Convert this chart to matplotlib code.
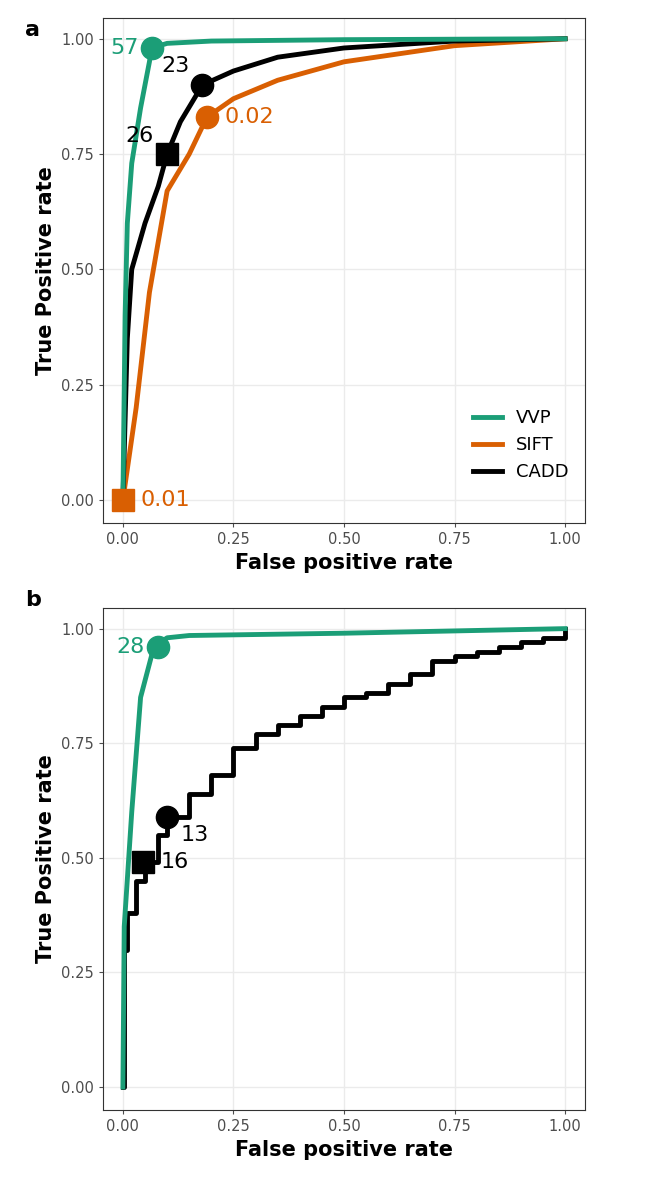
import matplotlib.pyplot as plt

GREEN = "#1b9e77"
ORANGE = "#d95f02"

# panel a
vvp_a_x = [0, 0.005, 0.01, 0.02, 0.04, 0.06, 0.065, 0.1, 0.2, 0.5, 1.0]
vvp_a_y = [0, 0.40, 0.60, 0.73, 0.85, 0.95, 0.98, 0.99, 0.995, 0.998, 1.0]
cadd_a_x = [0, 0.01, 0.02, 0.05, 0.08, 0.1, 0.13, 0.18, 0.25, 0.35, 0.5, 0.75, 1.0]
cadd_a_y = [0, 0.35, 0.50, 0.60, 0.68, 0.75, 0.82, 0.90, 0.93, 0.96, 0.98, 0.995, 1.0]
sift_a_x = [0, 0.03, 0.06, 0.1, 0.15, 0.19, 0.25, 0.35, 0.5, 0.75, 1.0]
sift_a_y = [0, 0.20, 0.45, 0.67, 0.75, 0.83, 0.87, 0.91, 0.95, 0.985, 1.0]

# panel b
vvp_b_x = [0, 0.003, 0.02, 0.04, 0.07, 0.1, 0.15, 0.5, 1.0]
vvp_b_y = [0, 0.35, 0.60, 0.85, 0.96, 0.98, 0.985, 0.99, 1.0]
cadd_b_x = [0, 0.003, 0.01, 0.03, 0.05, 0.08, 0.1, 0.15, 0.2, 0.25, 0.3, 0.35, 0.4,
            0.45, 0.5, 0.55, 0.6, 0.65, 0.7, 0.75, 0.8, 0.85, 0.9, 0.95, 1.0]
cadd_b_y = [0, 0.30, 0.38, 0.45, 0.49, 0.55, 0.59, 0.64, 0.68, 0.74, 0.77, 0.79, 0.81,
            0.83, 0.85, 0.86, 0.88, 0.90, 0.93, 0.94, 0.95, 0.96, 0.97, 0.98, 1.0]

# markers: (x, y, marker, colour, label, dx, dy, ha)
marks_a = [
    (0.065, 0.98, "o", GREEN, "57", -0.03, 0, "right"),
    (0.18, 0.90, "o", "black", "23", -0.03, 0.04, "right"),
    (0.10, 0.75, "s", "black", "26", -0.03, 0.04, "right"),
    (0.19, 0.83, "o", ORANGE, "0.02", 0.04, 0, "left"),
    (0.0, 0.0, "s", ORANGE, "0.01", 0.04, 0, "left"),
]
marks_b = [
    (0.08, 0.96, "o", GREEN, "28", -0.03, 0, "right"),
    (0.10, 0.59, "o", "black", "13", 0.03, -0.04, "left"),
    (0.045, 0.49, "s", "black", "16", 0.04, 0, "left"),
]

fig = plt.figure(figsize=(6.7, 12), dpi=100)
ax_a = fig.add_axes([103/670, 1-523/1200, 482/670, 505/1200])
ax_b = fig.add_axes([103/670, 1-1110/1200, 482/670, 502/1200])

ticks = [0, 0.25, 0.5, 0.75, 1.0]
labels = ["0.00", "0.25", "0.50", "0.75", "1.00"]

def style(ax, letter, ytop):
    ax.set_xlim(-0.045, 1.045)
    ax.set_ylim(-0.05, 1.045)
    ax.set_xticks(ticks, labels)
    ax.set_yticks(ticks, labels)
    ax.grid(True, color="#ebebeb", lw=1)
    ax.set_axisbelow(True)
    for s in ax.spines.values():
        s.set_color("#333333")
        s.set_linewidth(0.8)
    ax.tick_params(colors="#4d4d4d", labelsize=10.5, length=3)
    ax.set_xlabel("False positive rate", fontsize=15, fontweight="bold")
    ax.set_ylabel("True Positive rate", fontsize=15, fontweight="bold")
    fig.text(25/670, ytop, letter, fontsize=16, fontweight="bold", va="center")

def marks(ax, lst):
    for x, y, m, c, t, dx, dy, ha in lst:
        ax.plot(x, y, marker=m, color=c, ms=16, zorder=5)
        ax.text(x + dx, y + dy, t, color=c, fontsize=16, ha=ha, va="center", zorder=6)

ax_a.plot(sift_a_x, sift_a_y, color=ORANGE, lw=3.5, label="SIFT")
ax_a.plot(cadd_a_x, cadd_a_y, color="black", lw=3.5, label="CADD")
ax_a.plot(vvp_a_x, vvp_a_y, color=GREEN, lw=3.5, label="VVP")
marks(ax_a, marks_a)
h, l = ax_a.get_legend_handles_labels()
ax_a.legend([h[2], h[0], h[1]], [l[2], l[0], l[1]], loc="lower right",
            bbox_to_anchor=(1.0, 0.05), frameon=False, fontsize=13, handlelength=1.6)
style(ax_a, "a", 1-30/1200)

ax_b.plot(cadd_b_x, cadd_b_y, color="black", lw=3.5, drawstyle="steps-post")
ax_b.plot(vvp_b_x, vvp_b_y, color=GREEN, lw=3.5)
marks(ax_b, marks_b)
style(ax_b, "b", 1-600/1200)

fig.savefig("out.png")
